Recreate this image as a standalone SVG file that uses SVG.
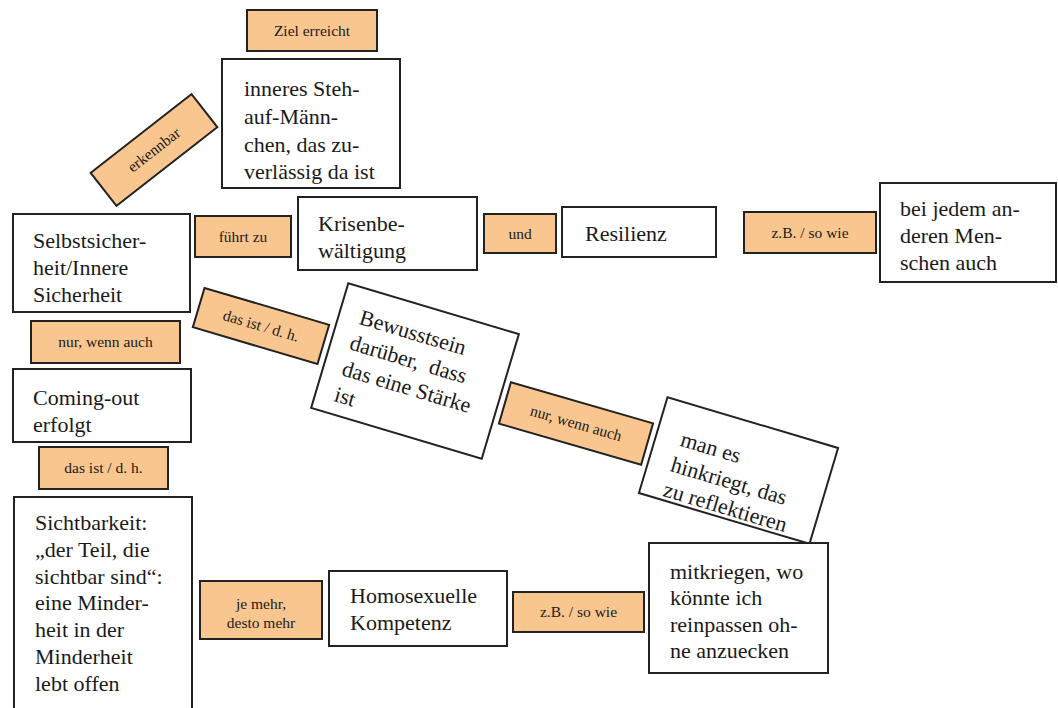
<svg xmlns="http://www.w3.org/2000/svg" width="1058" height="708" viewBox="0 0 1058 708" font-family="Liberation Serif, DejaVu Serif, Noto Serif, serif">
<style>
.node{fill:#fff;stroke:#222;stroke-width:2}
.lab{fill:#F9C690;stroke:#222;stroke-width:2}
.t{font-size:22px;fill:#1a1a1a}
.s{font-size:15.5px;fill:#1a1a1a;text-anchor:middle}
</style>
<rect width="1058" height="708" fill="#fff"/>
<g id="connectors"/>
<g id="ziel"><rect class="lab" x="247" y="10" width="130" height="41"/><text class="s" x="312" y="36">Ziel erreicht</text></g>
<g id="erkennbar" transform="translate(154,150) rotate(-38)"><rect class="lab" x="-64" y="-21" width="128" height="42"/><text class="s" x="0" y="5">erkennbar</text></g>
<g id="inneres"><rect class="node" x="222" y="59" width="178" height="129"/>
<text class="t"><tspan x="244" y="96">inneres Steh-</tspan><tspan x="244" y="124">auf-Männ-</tspan><tspan x="244" y="152">chen, das zu-</tspan><tspan x="244" y="179">verlässig da ist</tspan></text></g>
<g id="selbst"><rect class="node" x="13" y="214" width="177" height="98"/>
<text class="t"><tspan x="33" y="248">Selbstsicher-</tspan><tspan x="33" y="275">heit/Innere</tspan><tspan x="33" y="302">Sicherheit</tspan></text></g>
<g id="fuehrt"><rect class="lab" x="195" y="216" width="96" height="41"/><text class="s" x="243" y="242">führt zu</text></g>
<g id="krisen"><rect class="node" x="298" y="197" width="179" height="73"/>
<text class="t"><tspan x="318" y="231">Krisenbe-</tspan><tspan x="318" y="258">wältigung</tspan></text></g>
<g id="und"><rect class="lab" x="484" y="214" width="72" height="39"/><text class="s" x="520" y="239">und</text></g>
<g id="resilienz"><rect class="node" x="562" y="207" width="154" height="50"/><text class="t" x="585" y="241">Resilienz</text></g>
<g id="zb1"><rect class="lab" x="744" y="212" width="132" height="41"/><text class="s" x="810" y="238">z.B. / so wie</text></g>
<g id="beijedem"><rect class="node" x="880" y="183" width="176" height="99"/>
<text class="t"><tspan x="900" y="216">bei jedem an-</tspan><tspan x="900" y="243">deren Men-</tspan><tspan x="900" y="270">schen auch</tspan></text></g>
<g id="dasist1" transform="translate(261,326) rotate(16.5)"><rect class="lab" x="-65" y="-20.5" width="130" height="41"/><text class="s" x="0" y="5">das ist / d. h.</text></g>
<g id="bewusst" transform="translate(415,371) rotate(16.6)"><rect class="node" x="-89" y="-65" width="178" height="130"/>
<text class="t"><tspan x="-68" y="-29">Bewusstsein</tspan><tspan x="-70" y="-2">darüber,&#160; dass</tspan><tspan x="-70" y="25">das eine Stärke</tspan><tspan x="-70" y="52">ist</tspan></text></g>
<g id="nurwenn2" transform="translate(576,423.5) rotate(16.1)"><rect class="lab" x="-74" y="-21.5" width="148" height="43"/><text class="s" x="0" y="5">nur, wenn auch</text></g>
<g id="manes" transform="translate(738.5,470.5) rotate(16.6)"><rect class="node" x="-89" y="-50" width="178" height="100"/>
<text class="t"><tspan x="-64" y="-7">man es</tspan><tspan x="-66" y="20">hinkriegt, das</tspan><tspan x="-66" y="46">zu reflektieren</tspan></text></g>
<g id="nurwenn1"><rect class="lab" x="31" y="321" width="149" height="42"/><text class="s" x="105.5" y="347">nur, wenn auch</text></g>
<g id="coming"><rect class="node" x="13" y="369" width="178" height="73"/>
<text class="t"><tspan x="33" y="405">Coming-out</tspan><tspan x="33" y="432">erfolgt</tspan></text></g>
<g id="dasist2"><rect class="lab" x="39" y="447" width="129" height="42"/><text class="s" x="103.5" y="473">das ist / d. h.</text></g>
<g id="sicht"><rect class="node" x="14" y="497" width="178" height="220"/>
<text class="t"><tspan x="35" y="530">Sichtbarkeit:</tspan><tspan x="35" y="557">„der Teil, die</tspan><tspan x="35" y="584">sichtbar sind“:</tspan><tspan x="35" y="610">eine Minder-</tspan><tspan x="35" y="637">heit in der</tspan><tspan x="35" y="664">Minderheit</tspan><tspan x="35" y="691">lebt offen</tspan></text></g>
<g id="jemehr"><rect class="lab" x="200" y="581" width="122" height="58"/>
<text class="s"><tspan x="261" y="609">je mehr,</tspan><tspan x="261" y="628">desto mehr</tspan></text></g>
<g id="homo"><rect class="node" x="329" y="571" width="178" height="75"/>
<text class="t"><tspan x="350" y="603">Homosexuelle</tspan><tspan x="350" y="630">Kompetenz</tspan></text></g>
<g id="zb2"><rect class="lab" x="513" y="592" width="131" height="40"/><text class="s" x="578.5" y="617">z.B. / so wie</text></g>
<g id="mitkriegen"><rect class="node" x="649" y="543" width="179" height="130"/>
<text class="t"><tspan x="670" y="579">mitkriegen, wo</tspan><tspan x="670" y="605">könnte ich</tspan><tspan x="670" y="632">reinpassen oh-</tspan><tspan x="670" y="658">ne anzuecken</tspan></text></g>
</svg>
